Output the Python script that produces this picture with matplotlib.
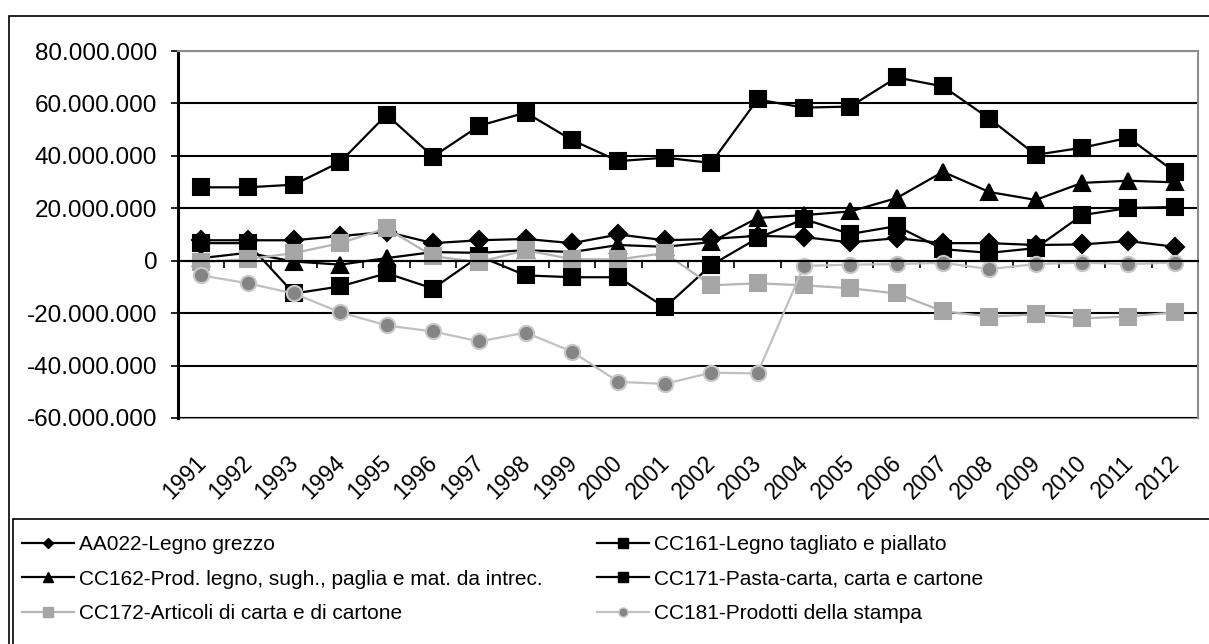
import numpy as np
import matplotlib
matplotlib.use("Agg")
import matplotlib.pyplot as plt
from matplotlib.lines import Line2D
from matplotlib.patches import Rectangle
from matplotlib.ticker import FuncFormatter, FixedLocator
from matplotlib.transforms import ScaledTranslation

plt.rcParams["font.family"] = ["Liberation Sans", "DejaVu Sans"]

# ===================== dati (milioni) =====================
years = [str(y) for y in range(1991, 2013)]

aa022 = [7.8, 7.8, 7.8, 9.4, 11.0, 6.7, 7.8, 8.3, 6.7, 10.0, 7.8,
         8.3, 9.5, 9.0, 7.0, 8.6, 6.7, 6.7, 6.0, 6.2, 7.5, 5.3]
cc161 = [28.0, 28.0, 29.0, 37.7, 55.7, 39.7, 51.5, 56.5, 46.0, 38.0, 39.3,
         37.3, 61.5, 58.4, 58.8, 69.9, 66.5, 54.2, 40.4, 43.1, 46.9, 33.9]
cc162 = [1.0, 3.0, -0.3, -1.5, 1.0, 3.3, 3.0, 4.0, 3.3, 6.0, 5.3,
         7.1, 16.3, 17.4, 18.8, 23.9, 33.9, 26.2, 23.2, 29.7, 30.5, 29.9]
cc171 = [6.7, 6.7, -12.5, -9.8, -4.8, -10.6, 1.7, -5.6, -6.3, -6.3, -17.8,
         -1.7, 8.6, 15.9, 10.2, 13.2, 4.4, 3.0, 4.8, 17.4, 20.1, 20.5]
cc172 = [-0.5, 0.6, 2.9, 6.7, 12.4, 1.7, -0.5, 4.0, 0.6, 0.5, 2.9,
         -9.4, -8.6, -9.4, -10.5, -12.5, -19.3, -21.3, -20.5, -22.0, -21.3, -19.7]
cc181 = [-5.6, -8.6, -12.5, -19.7, -24.7, -27.0, -30.8, -27.4, -34.7, -46.2, -47.0,
         -42.7, -43.0, -2.0, -1.5, -1.3, -0.8, -3.2, -1.3, -0.7, -1.3, -0.7]

labels = ["AA022-Legno grezzo",
          "CC161-Legno tagliato e piallato",
          "CC162-Prod. legno, sugh., paglia e mat. da intrec.",
          "CC171-Pasta-carta, carta e cartone",
          "CC172-Articoli di carta e di cartone",
          "CC181-Prodotti della stampa"]

# ===================== stili =====================
styles = [
    dict(color="black", marker="D", ms=9, mfc="black", mec="black"),
    dict(color="black", marker="s", ms=11, mfc="black", mec="black"),
    dict(color="black", marker="^", ms=11.5, mfc="black", mec="black"),
    dict(color="black", marker="s", ms=11, mfc="black", mec="black"),
    dict(color="#b4b4b4", marker="s", ms=11, mfc="#a6a6a6", mec="#a6a6a6"),
    dict(color="#c0c0c0", marker="o", ms=11, mfc="#858585", mec="#c8c8c8"),
]

fig = plt.figure(figsize=(12.09, 6.44), dpi=100)
W, H = 1209, 644
ax = fig.add_axes([178 / W, 1 - 418 / H, (1198 - 178) / W, (418 - 51) / H])

x = np.arange(len(years))
series = [aa022, cc161, cc162, cc171, cc172, cc181]
for vals, st in zip(series, styles):
    ax.plot(x, np.array(vals) * 1e6, lw=1.6, mew=1.5, **st)

ax.set_xlim(-0.5, len(years) - 0.5)
ax.set_ylim(-60e6, 80e6)
ax.set_yticks(np.arange(-60e6, 80e6 + 1, 20e6))
ax.yaxis.set_major_formatter(FuncFormatter(lambda v, p: f"{int(v):,}".replace(",", ".")))
ax.tick_params(axis="y", direction="out", length=5, width=1.2, pad=10, labelsize=17.5)
ax.grid(axis="y", color="black", lw=1.5)
ax.set_axisbelow(True)

# asse x sullo zero con le tacche tra le categorie
ax.spines["bottom"].set_position(("data", 0))
ax.spines["bottom"].set_color("black")
ax.spines["bottom"].set_linewidth(1.5)
ax.xaxis.set_major_locator(FixedLocator(np.arange(0.5, len(years) - 1, 1)))
ax.tick_params(axis="x", direction="out", length=5, width=1.2, labelbottom=False)

for s in ["top", "right"]:
    ax.spines[s].set_color("#8c8c8c")
    ax.spines[s].set_linewidth(1.5)
ax.spines["left"].set_linewidth(2.2)

# etichette anni in basso
sec = ax.secondary_xaxis(0.0)
sec.set_xticks(x)
sec.set_xticklabels(years, rotation=45, ha="right", va="top", rotation_mode="anchor", fontsize=16.5)
sec.tick_params(length=0, pad=17)
sec.spines["bottom"].set_color("#8c8c8c")
sec.spines["bottom"].set_linewidth(1.5)
shift = ScaledTranslation(-7 / 100, -10 / 100, fig.dpi_scale_trans)
for t in sec.get_xticklabels():
    t.set_transform(t.get_transform() + shift)

# ===================== legenda =====================
def leg_handle(st):
    return Line2D([], [], lw=1.6, color=st["color"], marker=st["marker"],
                  ms=st["ms"] * 0.6, mfc=st["mfc"], mec=st["mec"])

legkw = dict(frameon=False, fontsize=15, handlelength=2.5, handletextpad=0.25,
             labelspacing=0.75, borderpad=0, borderaxespad=0, loc="upper left")
fig.legend([leg_handle(styles[i]) for i in (0, 2, 4)], [labels[i] for i in (0, 2, 4)],
           bbox_to_anchor=(22 / W, 1 - 535 / H), **legkw)
fig.legend([leg_handle(styles[i]) for i in (1, 3, 5)], [labels[i] for i in (1, 3, 5)],
           bbox_to_anchor=(597 / W, 1 - 535 / H), **legkw)

# cornici
fig.add_artist(Rectangle((13 / W, -0.1), 1.2, (1 - 519 / H) + 0.1, transform=fig.transFigure,
                         fill=False, ec="black", lw=1.2))
fig.add_artist(Rectangle((9 / W, -0.1), 1.2, (1 - 16 / H) + 0.1, transform=fig.transFigure,
                         fill=False, ec="black", lw=1.2))

fig.savefig("out.png", dpi=100, facecolor="white")
